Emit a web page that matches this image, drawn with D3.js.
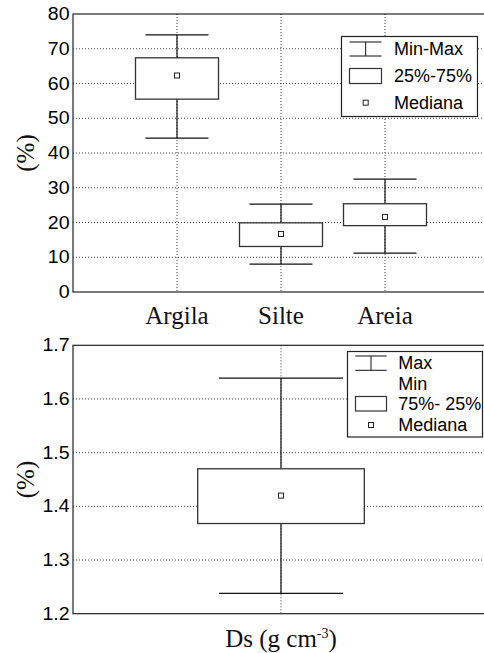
<!DOCTYPE html>
<html><head><meta charset="utf-8">
<script src="https://cdn.jsdelivr.net/npm/d3@7"></script>
<style>
html,body{margin:0;padding:0;background:#fff;overflow:hidden}
svg{display:block}
</style></head>
<body>
<script>
// ---- Data ----
const categories = ["Argila", "Silte", "Areia"];
const minVals    = [44.3, 8.0, 11.2];
const q1Vals     = [55.5, 13.1, 19.1];
const medVals    = [62.3, 16.7, 21.6];
const q3Vals     = [67.4, 19.9, 25.4];
const maxVals    = [74.0, 25.3, 32.5];
const yTicksTop  = [0, 10, 20, 30, 40, 50, 60, 70, 80];
const legendTop  = ["Min-Max", "25%-75%", "Mediana"];

const dsCategories = ["Ds"];
const dsMin = [1.238];
const dsQ1  = [1.368];
const dsMed = [1.42];
const dsQ3  = [1.47];
const dsMax = [1.639];
const yTicksBottom = [1.2, 1.3, 1.4, 1.5, 1.6, 1.7];
const legendBottom = ["Max", "Min", "75%- 25%", "Mediana"];

const W = 484, H = 653;
const svg = d3.select("body").append("svg").attr("width", W).attr("height", H);
const sans = "'Liberation Sans', Arial, sans-serif";
const serif = "'Liberation Serif', 'Times New Roman', serif";

function panel(opts) {
  const g = svg.append("g");
  const x = d3.scalePoint().domain(opts.cats).range([opts.left, opts.right]).padding(opts.pad);
  const y = d3.scaleLinear().domain(opts.domain).range([opts.bottom, opts.top]);
  const boxW = opts.boxHalf, capW = opts.capHalf;

  // grid
  g.selectAll(".hg").data(opts.ticks.slice(1, -1)).enter().append("line")
    .attr("x1", opts.left).attr("x2", opts.right)
    .attr("y1", d => y(d)).attr("y2", d => y(d))
    .attr("stroke", "#444").attr("stroke-width", 1).attr("stroke-dasharray", "1,2");
  g.selectAll(".vg").data(opts.cats).enter().append("line")
    .attr("x1", d => x(d)).attr("x2", d => x(d))
    .attr("y1", opts.top).attr("y2", opts.bottom)
    .attr("stroke", "#444").attr("stroke-width", 1).attr("stroke-dasharray", "1,2");

  // frame
  g.append("rect").attr("x", opts.left).attr("y", opts.top)
    .attr("width", opts.right - opts.left).attr("height", opts.bottom - opts.top)
    .attr("fill", "none").attr("stroke", "#222").attr("stroke-width", 1.2);

  // y axis
  const ax = g.append("g").attr("transform", `translate(${opts.left},0)`)
    .call(d3.axisLeft(y).tickValues(opts.ticks).tickSize(0).tickPadding(3).tickFormat(opts.fmt));
  ax.select(".domain").remove();
  ax.selectAll("text").attr("font-family", sans).attr("font-size", 17.5).attr("fill", "#000")
    .attr("transform", "scale(1.12,1)");

  // boxes
  const items = opts.cats.map((c, i) => ({c, mn: opts.mn[i], q1: opts.q1[i], md: opts.md[i], q3: opts.q3[i], mx: opts.mx[i]}));
  const b = g.selectAll(".box").data(items).enter().append("g");
  b.append("line").attr("x1", d => x(d.c)).attr("x2", d => x(d.c))
    .attr("y1", d => y(d.mn)).attr("y2", d => y(d.mx)).attr("stroke", "#111").attr("stroke-width", 1.2);
  b.append("line").attr("x1", d => x(d.c) - capW).attr("x2", d => x(d.c) + capW)
    .attr("y1", d => y(d.mx)).attr("y2", d => y(d.mx)).attr("stroke", "#111").attr("stroke-width", 1.2);
  b.append("line").attr("x1", d => x(d.c) - capW).attr("x2", d => x(d.c) + capW)
    .attr("y1", d => y(d.mn)).attr("y2", d => y(d.mn)).attr("stroke", "#111").attr("stroke-width", 1.2);
  b.append("rect").attr("x", d => x(d.c) - boxW).attr("width", 2 * boxW)
    .attr("y", d => y(d.q3)).attr("height", d => y(d.q1) - y(d.q3))
    .attr("fill", "#fff").attr("stroke", "#333").attr("stroke-width", 1.3);
  b.append("rect").attr("x", d => x(d.c) - 2.5).attr("y", d => y(d.md) - 2.5)
    .attr("width", 5).attr("height", 5).attr("fill", "#fff").attr("stroke", "#222").attr("stroke-width", 1);

  // y label
  g.append("text").attr("transform", `translate(${opts.ylx},${(opts.top + opts.bottom) / 2}) rotate(-90)`)
    .attr("text-anchor", "middle").attr("dominant-baseline", "central")
    .attr("font-family", serif).attr("font-size", 25).attr("fill", "#111").text("(%)");

  return {g, x, y};
}

// ---- Top panel ----
const topP = panel({cats: categories, left: 73, right: 489, top: 14, bottom: 292, pad: 1,
  domain: [0, 80], ticks: yTicksTop, fmt: d3.format("d"),
  mn: minVals, q1: q1Vals, md: medVals, q3: q3Vals, mx: maxVals,
  boxHalf: 41.5, capHalf: 31.5, ylx: 25});
topP.g.selectAll(".cat").data(categories).enter().append("text")
  .attr("x", d => topP.x(d)).attr("y", 324).attr("text-anchor", "middle")
  .attr("font-family", serif).attr("font-size", 25).attr("fill", "#111").text(d => d);

// top legend
{
  const lg = topP.g.append("g");
  lg.append("rect").attr("x", 341.5).attr("y", 36.5).attr("width", 136).attr("height", 80)
    .attr("fill", "#fff").attr("stroke", "#222").attr("stroke-width", 1.2);
  const sx = 365.7, rows = [49, 76, 102.7];
  lg.append("line").attr("x1", sx).attr("x2", sx).attr("y1", 42).attr("y2", 56).attr("stroke", "#111");
  lg.append("line").attr("x1", 349.5).attr("x2", 381.5).attr("y1", 42).attr("y2", 42).attr("stroke", "#111");
  lg.append("line").attr("x1", 349.5).attr("x2", 381.5).attr("y1", 56).attr("y2", 56).attr("stroke", "#111");
  lg.append("rect").attr("x", 349.5).attr("y", 68.5).attr("width", 32).attr("height", 15)
    .attr("fill", "#fff").attr("stroke", "#333").attr("stroke-width", 1.2);
  lg.append("rect").attr("x", sx - 2.5).attr("y", rows[2] - 2.5).attr("width", 5).attr("height", 5)
    .attr("fill", "#fff").attr("stroke", "#222");
  lg.selectAll(".lt").data(legendTop).enter().append("text")
    .attr("x", 394).attr("y", (d, i) => rows[i]).attr("dominant-baseline", "central")
    .attr("font-family", sans).attr("font-size", 18).attr("fill", "#000").text(d => d);
}

// ---- Bottom panel ----
const botP = panel({cats: dsCategories, left: 73, right: 489, top: 345.3, bottom: 613.7, pad: 0.5,
  domain: [1.2, 1.7], ticks: yTicksBottom, fmt: d3.format(".1f"),
  mn: dsMin, q1: dsQ1, md: dsMed, q3: dsQ3, mx: dsMax,
  boxHalf: 83.3, capHalf: 62, ylx: 25});
{
  const t = botP.g.append("text").attr("x", botP.x("Ds")).attr("y", 647).attr("text-anchor", "middle")
    .attr("font-family", serif).attr("font-size", 25).attr("fill", "#111");
  t.append("tspan").text("Ds (g cm");
  t.append("tspan").attr("font-size", 14).attr("dy", -9).text("-3");
  t.append("tspan").attr("dy", 9).text(")");
}
{
  const lg = botP.g.append("g");
  lg.append("rect").attr("x", 347.5).attr("y", 351.5).attr("width", 135).attr("height", 85.5)
    .attr("fill", "#fff").attr("stroke", "#222").attr("stroke-width", 1.2);
  const sx = 371, rows = [363.3, 384.3, 404, 425];
  lg.append("line").attr("x1", sx).attr("x2", sx).attr("y1", 356).attr("y2", 370.3).attr("stroke", "#111");
  lg.append("line").attr("x1", 355.3).attr("x2", 386.7).attr("y1", 356).attr("y2", 356).attr("stroke", "#111");
  lg.append("line").attr("x1", 355.3).attr("x2", 386.7).attr("y1", 370.3).attr("y2", 370.3).attr("stroke", "#111");
  lg.append("rect").attr("x", 355.5).attr("y", 396.5).attr("width", 31).attr("height", 14.5)
    .attr("fill", "#fff").attr("stroke", "#333").attr("stroke-width", 1.2);
  lg.append("rect").attr("x", sx - 2.5).attr("y", rows[3] - 2.5).attr("width", 5).attr("height", 5)
    .attr("fill", "#fff").attr("stroke", "#222");
  lg.selectAll(".lt").data(legendBottom).enter().append("text")
    .attr("x", 398.3).attr("y", (d, i) => rows[i]).attr("dominant-baseline", "central")
    .attr("font-family", sans).attr("font-size", 18).attr("fill", "#000").text(d => d);
}
</script>
</body></html>
